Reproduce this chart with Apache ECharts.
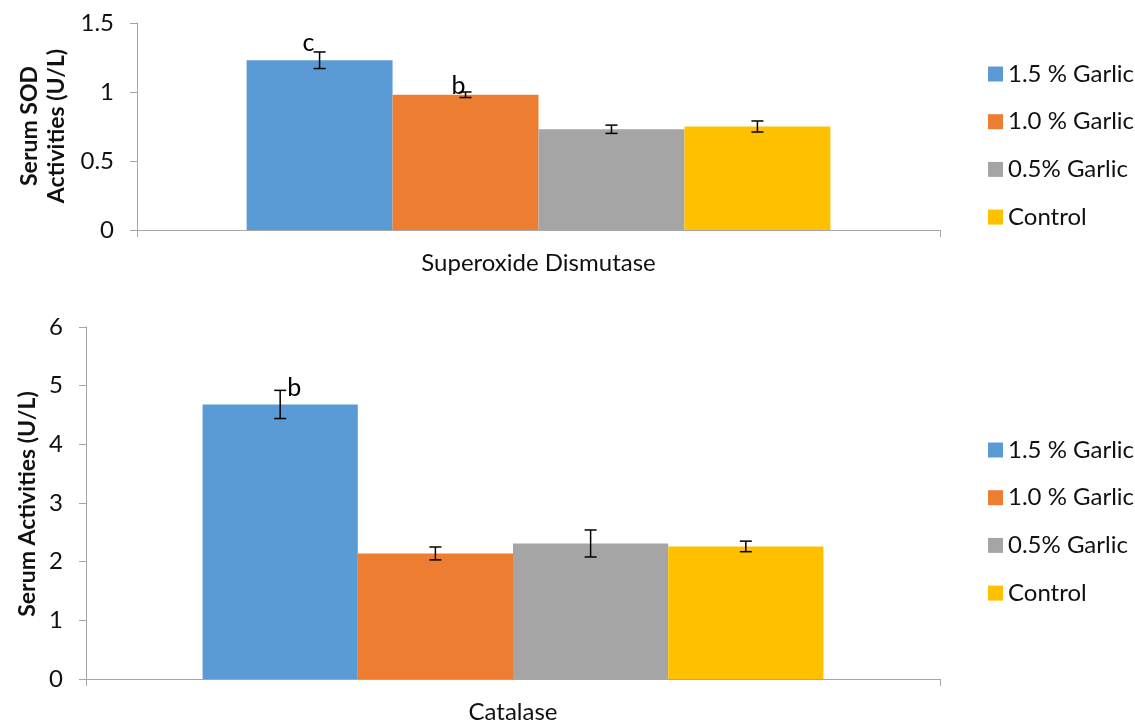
<!DOCTYPE html>
<html>
<head>
<meta charset="utf-8">
<script src="https://cdn.jsdelivr.net/npm/echarts@6/dist/echarts.min.js"></script>
<style>
  html, body { margin: 0; padding: 0; background: #fff; }
  #chart { width: 1135px; height: 724px; }
</style>
</head>
<body>
<div id="chart"></div>
<script>
// Treatment groups (one bar per group in each panel)
const groups = ['1.5 % Garlic', '1.0 % Garlic', '0.5% Garlic', 'Control'];
const groupColors = ['#5B9BD5', '#ED7D31', '#A5A5A5', '#FFC000'];

// Panel 1: superoxide dismutase
const sodCategory = ['Superoxide Dismutase'];
const sodValues = [1.23, 0.98, 0.73, 0.75];
const sodErrors = [0.06, 0.02, 0.03, 0.04];
const sodLetters = ['c', 'b', '', ''];
const sodTicks = [0, 0.5, 1, 1.5];
const sodTitle = 'Serum SOD\nActivities (U/L)';

// Panel 2: catalase
const catCategory = ['Catalase'];
const catValues = [4.68, 2.14, 2.31, 2.26];
const catErrors = [0.24, 0.11, 0.23, 0.09];
const catLetters = ['b', '', '', ''];
const catTicks = [0, 1, 2, 3, 4, 5, 6];
const catTitle = 'Serum Activities (U/L)';

// gap between category edge and bar cluster (fraction of band)
const CATEGORY_GAP = 0.273;
// where each significance letter sits relative to the top cap of its error bar
const letterOffsets = {
  sod: [[-11, -9], [-7, -6]],
  cat: [[14, -2]]
};

const FONT = 'Lato';
const axisGrey = '#A6A6A6';
const textColor = '#111';

function errorData(values, errors) {
  return values.map((v, i) => [0, i, v - errors[i], v + errors[i]]);
}

// x position of a group's bar centre inside the category band
function barCenterX(api, idx, baseX) {
  const band = api.size([1, 0])[0];
  const n = groups.length;
  const bw = band * (1 - CATEGORY_GAP) / n;
  return baseX + (idx - (n - 1) / 2) * bw;
}

function errorRenderer() {
  return function (params, api) {
    const idx = api.value(1);
    const pLo = api.coord([0, api.value(2)]);
    const pHi = api.coord([0, api.value(3)]);
    const x = barCenterX(api, idx, pLo[0]);
    const cap = 6;
    const style = { stroke: '#000', lineWidth: 1.5 };
    return {
      type: 'group',
      children: [
        { type: 'line', shape: { x1: x, y1: pLo[1], x2: x, y2: pHi[1] }, style },
        { type: 'line', shape: { x1: x - cap, y1: pLo[1], x2: x + cap, y2: pLo[1] }, style },
        { type: 'line', shape: { x1: x - cap, y1: pHi[1], x2: x + cap, y2: pHi[1] }, style }
      ]
    };
  };
}

function letterRenderer(key, letters) {
  return function (params, api) {
    const idx = api.value(1);
    const t = letters[idx];
    if (!t) return null;
    const p = api.coord([0, api.value(3)]);
    const x = barCenterX(api, idx, p[0]);
    const off = letterOffsets[key][idx];
    return {
      type: 'text',
      style: {
        text: t, x: x + off[0], y: p[1] + off[1],
        align: 'center', verticalAlign: 'middle',
        font: '25px ' + FONT, fill: '#000'
      }
    };
  };
}

function barSeries(values, axisIdx) {
  return groups.map((g, i) => ({
    type: 'bar',
    name: g,
    xAxisIndex: axisIdx,
    yAxisIndex: axisIdx,
    data: [values[i]],
    barGap: '0%',
    barCategoryGap: (CATEGORY_GAP * 100) + '%',
    itemStyle: { color: groupColors[i] },
    emphasis: { disabled: true },
    silent: true
  }));
}

function customSeries(values, errors, letters, axisIdx, key) {
  const data = errorData(values, errors);
  return [
    {
      type: 'custom', xAxisIndex: axisIdx, yAxisIndex: axisIdx,
      renderItem: errorRenderer(), data, silent: true, z: 5,
      encode: { x: 0, y: [2, 3] }
    },
    {
      type: 'custom', xAxisIndex: axisIdx, yAxisIndex: axisIdx,
      renderItem: letterRenderer(key, letters), data, silent: true, z: 6,
      encode: { x: 0, y: [2, 3] }
    }
  ];
}

const valueAxisCommon = {
  type: 'value',
  splitLine: { show: false },
  axisLine: { show: true, lineStyle: { color: axisGrey, width: 1 } },
  axisTick: { show: true, length: 7, lineStyle: { color: axisGrey } },
  axisLabel: { color: textColor, fontSize: 24, fontFamily: FONT, margin: 23 }
};

const catAxisCommon = {
  type: 'category',
  axisLine: { show: true, lineStyle: { color: axisGrey, width: 1 } },
  axisTick: { show: true, length: 7, lineStyle: { color: axisGrey } },
  axisLabel: { color: textColor, fontSize: 24, fontFamily: FONT, margin: 21 }
};

const legendCommon = {
  orient: 'vertical',
  left: 983,
  itemWidth: 15,
  itemHeight: 15,
  itemGap: 23.7,
  icon: 'rect',
  selectedMode: false,
  textStyle: { color: textColor, fontSize: 24, fontFamily: FONT, lineHeight: 24 },
  data: groups
};

function axisTitle(text, cx, cy) {
  return {
    type: 'text',
    x: cx, y: cy,
    rotation: Math.PI / 2,
    silent: true,
    style: {
      text, align: 'center', verticalAlign: 'middle',
      font: 'bold 23px ' + FONT, lineHeight: 27, fill: textColor
    }
  };
}

const chart = echarts.init(document.getElementById('chart'), null, { renderer: 'canvas' });
chart.setOption({
  animation: false,
  grid: [
    { left: 137, right: 195, top: 23, height: 207 },
    { left: 86, right: 195, top: 327, height: 353 }
  ],
  xAxis: [
    Object.assign({}, catAxisCommon, { gridIndex: 0, data: sodCategory }),
    Object.assign({}, catAxisCommon, { gridIndex: 1, data: catCategory })
  ],
  yAxis: [
    Object.assign({}, valueAxisCommon, {
      gridIndex: 0, min: sodTicks[0], max: sodTicks[sodTicks.length - 1], interval: 0.5
    }),
    Object.assign({}, valueAxisCommon, {
      gridIndex: 1, min: catTicks[0], max: catTicks[catTicks.length - 1], interval: 1
    })
  ],
  graphic: [
    axisTitle(sodTitle, 43, 126),
    axisTitle(catTitle, 28, 504)
  ],
  legend: [
    Object.assign({}, legendCommon, { top: 57 }),
    Object.assign({}, legendCommon, { top: 433 })
  ],
  series: [
    ...barSeries(sodValues, 0),
    ...barSeries(catValues, 1),
    ...customSeries(sodValues, sodErrors, sodLetters, 0, 'sod'),
    ...customSeries(catValues, catErrors, catLetters, 1, 'cat')
  ]
});
</script>
</body>
</html>
